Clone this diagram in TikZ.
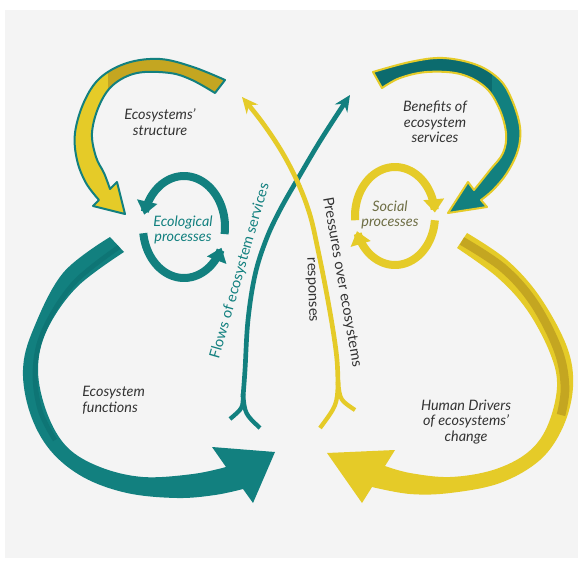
\documentclass[tikz,border=0pt]{standalone}
\usepackage{fontspec}
\setmainfont{Lato}
\usetikzlibrary{arrows.meta}
\definecolor{teal1}{HTML}{12807F}
\definecolor{tealdk}{HTML}{0C6B6E}
\definecolor{tealmid}{HTML}{0E7575}
\definecolor{yel}{HTML}{E5CB28}
\definecolor{gold}{HTML}{C4A621}
\definecolor{bg}{HTML}{F4F4F4}
\definecolor{txt}{HTML}{333333}
\definecolor{olivetxt}{HTML}{6E6E45}
\begin{document}
\begin{tikzpicture}[x=0.75pt,y=-0.75pt,
  lbl/.style={font=\itshape\fontsize{10.8}{11.8}\selectfont, text=txt, align=center, inner sep=0pt},
  vlbl/.style={font=\fontsize{11}{13}\selectfont, inner sep=0pt},
  ring/.style={line width=6pt, -{Triangle[length=10pt,width=15pt]}},
  thin/.style={line width=3.5pt, -{Stealth[length=12pt,width=11pt]}},
  prong/.style={line width=3.2pt},
]
\useasboundingbox (0,0) rectangle (582,563);
\fill[white] (0,0) rectangle (582,563);
\fill[bg] (5,10) rectangle (578,558);

% big teal arrow (ecosystem functions)
\fill[teal1] plot[smooth,tension=0.6] coordinates {(110,237) (63,273) (33,330) (23,370) (30,413) (50,450) (83,477) (127,493) (177,498) (215,495) (243,489)}
  -- (253,503) -- (275,452) -- (212,447)
  -- plot[smooth,tension=0.6] coordinates {(226,467) (193,474) (143,477) (100,467) (67,447) (47,413) (38,370) (47,330) (77,287) (124,252)} -- cycle;
\draw[tealmid, line width=3.5pt] plot[smooth,tension=0.6] coordinates {(119,247) (74,283) (44,330) (35,370) (40,410) (55,440)};

% big yellow arrow (human drivers)
\fill[yel] plot[smooth,tension=0.6] coordinates {(467,233) (507,260) (540,297) (567,347) (573,387) (563,427) (540,460) (500,483) (450,493) (410,494) (372,487)}
  -- (362,503) -- (327,453) -- (395,450)
  -- plot[smooth,tension=0.6] coordinates {(385,466) (410,473) (450,477) (493,470) (527,453) (547,427) (557,387) (550,353) (527,310) (497,277) (457,248)} -- cycle;
\draw[gold, line width=6.5pt] plot[smooth,tension=0.6] coordinates {(462,241) (503,268) (534,303) (558,350) (565,387) (561,415)};

% top-left ribbon arrow (ecosystems' structure)
\def\tlpath{plot[smooth,tension=0.6] coordinates {(225,80) (193,67) (160,59) (127,63) (100,78) (84,102) (75,133) (77,160) (86,183) (99,200)}
  -- (93,206) -- (125,214) -- (117,182)
  -- plot[smooth,tension=0.6] coordinates {(110,189) (104,173) (96,157) (92,133) (99,106) (113,85) (137,73) (170,73) (192,80) (215,93)} -- cycle}
\fill[yel] \tlpath;
\begin{scope}
  \clip \tlpath;
  \fill[gold] (108,30) rectangle (240,110);
\end{scope}
\draw[teal1, line width=1.5pt, line join=round] \tlpath;

% top-right ribbon arrow (benefits)
\def\trpath{plot[smooth,tension=0.6] coordinates {(373,72) (410,62) (443,58) (477,65) (500,80) (512,100) (520,127) (518,150) (507,173) (493,190) (481,200)}
  -- (487,207) -- (448,213) -- (468,182)
  -- plot[smooth,tension=0.6] coordinates {(474,190) (490,170) (503,153) (506,133) (499,108) (485,87) (460,74) (427,72) (400,78) (382,88)} -- cycle}
\fill[teal1] \trpath;
\begin{scope}
  \clip \trpath;
  \fill[tealdk] (360,40) rectangle (492,95);
\end{scope}
\draw[yel, line width=1.5pt, line join=round] \trpath;

% ecological processes ring
\draw[teal1, ring] plot[domain=-8:166, samples=50] ({184+41*cos(\x)}, {227-51*sin(\x)});
\draw[teal1, ring] plot[domain=187:336, samples=50] ({184+41*cos(\x)}, {227-51*sin(\x)});

% social processes ring
\draw[yel, ring] plot[domain=185:4, samples=50] ({395+40*cos(\x)}, {216-49*sin(\x)});
\draw[yel, ring] plot[domain=-5:-162, samples=50] ({395+40*cos(\x)}, {216-49*sin(\x)});

% flows of ecosystem services (teal thin)
\draw[teal1, thin] plot[smooth,tension=0.6] coordinates {(243,397) (245,370) (248,320) (255,275) (266,240) (280,210) (300,175) (322,138) (350,95)};
\draw[teal1, prong] (243,394) .. controls (243,408) .. (230,419);
\draw[teal1, prong] (243,394) .. controls (245,414) .. (260,428);

% pressures (yellow thin)
\draw[yel, thin] plot[smooth,tension=0.6] coordinates {(338,385) (337,360) (333,330) (326,290) (318,250) (310,215) (298,183) (282,152) (262,122) (242,97)};
\draw[yel, prong] (338,382) .. controls (337,405) .. (320,428);
\draw[yel, prong] (338,382) .. controls (340,400) .. (355,410);

% labels
\node[lbl] (struct) at (160,122) {Ecosystems’\\structure};
\node[lbl] (benef) at (435,122) {Benefits of\\ecosystem\\services};
\node[lbl, text=teal1] (eco) at (183,230) {Ecological\\processes};
\node[lbl, text=olivetxt] (soc) at (390,215) {Social\\processes};
\node[lbl, align=left, anchor=west] (func) at (82,400) {Ecosystem\\functions};
\node[lbl] (human) at (466,422) {Human Drivers\\of ecosystems’\\change};
\node[vlbl, text=teal1, rotate=74] (flows) at (240,271) {Flows of ecosystem services};
\node[vlbl, text=txt, rotate=-80] (press) at (342,282) {Pressures over ecosystems};
\node[vlbl, text=txt, rotate=-88] (resp) at (311,290) {responses};
\end{tikzpicture}
\end{document}
